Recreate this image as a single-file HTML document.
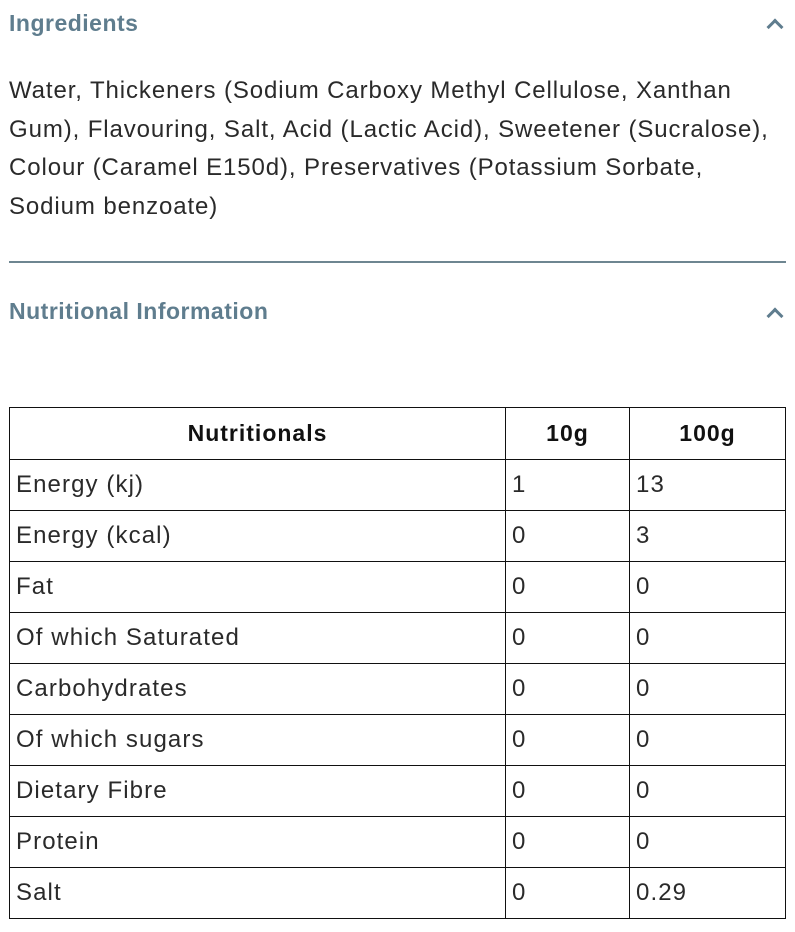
<!DOCTYPE html>
<html><head><style>
body{margin:0;width:795px;height:932px;background:#fff;font-family:"Liberation Sans",sans-serif;position:relative;overflow:hidden}
.h{position:absolute;left:9px;font-weight:bold;font-size:23px;color:#5f7d8e;letter-spacing:0.5px}
.car{position:absolute;left:769px;width:9px;height:9px;border-left:3px solid #5f7d8e;border-top:3px solid #5f7d8e;transform:rotate(45deg)}
.p{position:absolute;left:9px;top:72px;width:790px;font-size:24px;line-height:38.5px;color:#2a2a2a;white-space:nowrap;letter-spacing:0.9px}
.hr{position:absolute;left:9px;top:261px;width:777px;height:2px;background:#6e8691}
table{position:absolute;left:9px;top:407px;border-collapse:collapse;width:777px;font-size:24px;color:#2a2a2a;letter-spacing:1.1px}
td,th{border:1.5px solid #111;padding:0 6px;height:50px;text-align:left}
th{text-align:center;font-size:23px;color:#111;height:51px;letter-spacing:1px}
</style></head><body>
<div class="h" style="top:10px">Ingredients</div>
<div class="car" style="top:21px"></div>
<div class="p">Water, Thickeners (Sodium Carboxy Methyl Cellulose, Xanthan<br>Gum), Flavouring, Salt, Acid (Lactic Acid), Sweetener (Sucralose),<br>Colour (Caramel E150d), Preservatives (Potassium Sorbate,<br>Sodium benzoate)</div>
<div class="hr"></div>
<div class="h" style="top:298px">Nutritional Information</div>
<div class="car" style="top:310px"></div>
<table>
<tr><th style="width:483px">Nutritionals</th><th style="width:111px">10g</th><th>100g</th></tr>
<tr><td>Energy (kj)</td><td>1</td><td>13</td></tr>
<tr><td>Energy (kcal)</td><td>0</td><td>3</td></tr>
<tr><td>Fat</td><td>0</td><td>0</td></tr>
<tr><td>Of which Saturated</td><td>0</td><td>0</td></tr>
<tr><td>Carbohydrates</td><td>0</td><td>0</td></tr>
<tr><td>Of which sugars</td><td>0</td><td>0</td></tr>
<tr><td>Dietary Fibre</td><td>0</td><td>0</td></tr>
<tr><td>Protein</td><td>0</td><td>0</td></tr>
<tr><td>Salt</td><td>0</td><td>0.29</td></tr>
</table>
</body></html>
